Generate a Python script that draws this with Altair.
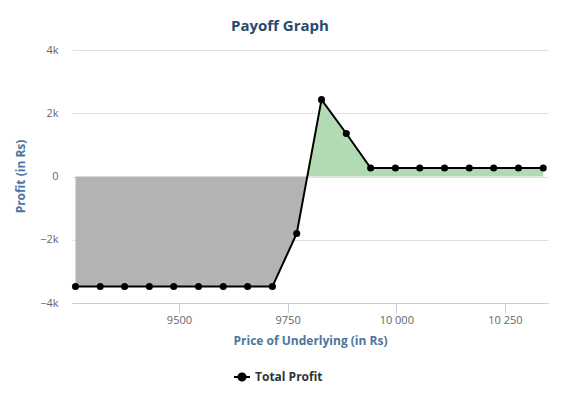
import altair as alt
import pandas as pd

prices = [9262, 9319, 9375, 9432, 9488, 9545, 9602, 9658, 9715, 9771,
          9828, 9885, 9941, 9998, 10054, 10111, 10168, 10224, 10281, 10338]
profit = [-3480, -3480, -3480, -3480, -3480, -3480, -3480, -3480, -3480, -1800,
          2430, 1360, 270, 270, 270, 270, 270, 270, 270, 270]
series_name = "Total Profit"
y_ticks = [-4000, -2000, 0, 2000, 4000]
x_ticks = [9500, 9750, 10000, 10250]

df = pd.DataFrame({"price": prices, "profit": profit, "series": series_name})

# zero crossings, derived from the data by linear interpolation
neg_rows, pos_rows = [], []
for i in range(len(prices)):
    p, v = prices[i], profit[i]
    if v <= 0:
        neg_rows.append((p, v))
    if v >= 0:
        pos_rows.append((p, v))
    if i + 1 < len(prices):
        v2 = profit[i + 1]
        if (v < 0 < v2) or (v > 0 > v2):
            x0 = p + (0 - v) * (prices[i + 1] - p) / (v2 - v)
            neg_rows.append((x0, 0))
            pos_rows.append((x0, 0))
neg_df = pd.DataFrame(neg_rows, columns=["price", "profit"]).sort_values("price")
pos_df = pd.DataFrame(pos_rows, columns=["price", "profit"]).sort_values("price")

FONT = "Open Sans"
xscale = alt.Scale(domain=[9254, 10349], nice=False, zero=False)
yscale = alt.Scale(domain=[-4000, 4000], nice=False)

area_neg = alt.Chart(neg_df).mark_area(color="#b3b3b3", opacity=1).encode(
    x=alt.X("price:Q", scale=xscale),
    y=alt.Y("profit:Q", scale=yscale),
    y2=alt.datum(0),
)
area_pos = alt.Chart(pos_df).mark_area(color="#b3dbb3", opacity=1).encode(
    x=alt.X("price:Q", scale=xscale),
    y=alt.Y("profit:Q", scale=yscale),
    y2=alt.datum(0),
)

legend = alt.Legend(
    title=None, orient="none", legendX=161, legendY=318,
    labelFont=FONT, labelFontSize=12, labelFontWeight="bold", labelColor="#333333",
    symbolType="M-1,0L1,0M0.45,0A0.45,0.45,0,1,1,-0.45,0A0.45,0.45,0,1,1,0.45,0Z",
    symbolSize=256, symbolStrokeWidth=2, symbolFillColor="black", symbolStrokeColor="black",
    labelOffset=4,
)

line = alt.Chart(df).mark_line(strokeWidth=2, point=alt.OverlayMarkDef(filled=True, size=50, opacity=1)).encode(
    x=alt.X("price:Q", scale=xscale,
            axis=alt.Axis(title="Price of Underlying (in Rs)", values=x_ticks,
                          labelExpr="datum.value >= 10000 ? replace(format(datum.value, ','), ',', ' ') : format(datum.value, 'd')",
                          grid=False, domainColor="#C0D0E0", tickColor="#C0D0E0", tickSize=10,
                          labelColor="#666666", labelFont=FONT, labelFontSize=11, labelPadding=1,
                          titleColor="#4d759e", titleFont=FONT, titleFontSize=12, titleFontWeight="bold",
                          titleY=37, titleBaseline="middle")),
    y=alt.Y("profit:Q", scale=yscale,
            axis=alt.Axis(title="Profit (in Rs)", values=y_ticks,
                          labelExpr="datum.value == 0 ? '0' : replace(format(datum.value / 1000, 'd'), '-', '−') + 'k'",
                          grid=True, gridColor="#e0e0e0", domain=False, ticks=False,
                          labelColor="#666666", labelFont=FONT, labelFontSize=11, labelPadding=14,
                          titleColor="#4d759e", titleFont=FONT, titleFontSize=12, titleFontWeight="bold",
                          titleX=-52, titleY=126, titleAngle=270, titleBaseline="middle", titleAlign="center")),
    color=alt.Color("series:N", scale=alt.Scale(range=["black"]), legend=legend),
)

chart = alt.layer(area_neg, area_pos, line).properties(
    width=476, height=253,
    autosize=alt.AutoSizeParams(type="none"),
    padding={"left": 64, "top": 42, "right": 20, "bottom": 90},
    title=alt.TitleParams("Payoff Graph", font=FONT, fontSize=15, fontWeight="bold",
                          color="#274b6d", anchor="middle", dx=-30, offset=10),
).configure_view(stroke=None).configure_axis(
    gridColor="#e0e0e0"
)

chart.save("out.html", embed_options={"renderer": "svg", "actions": False})
